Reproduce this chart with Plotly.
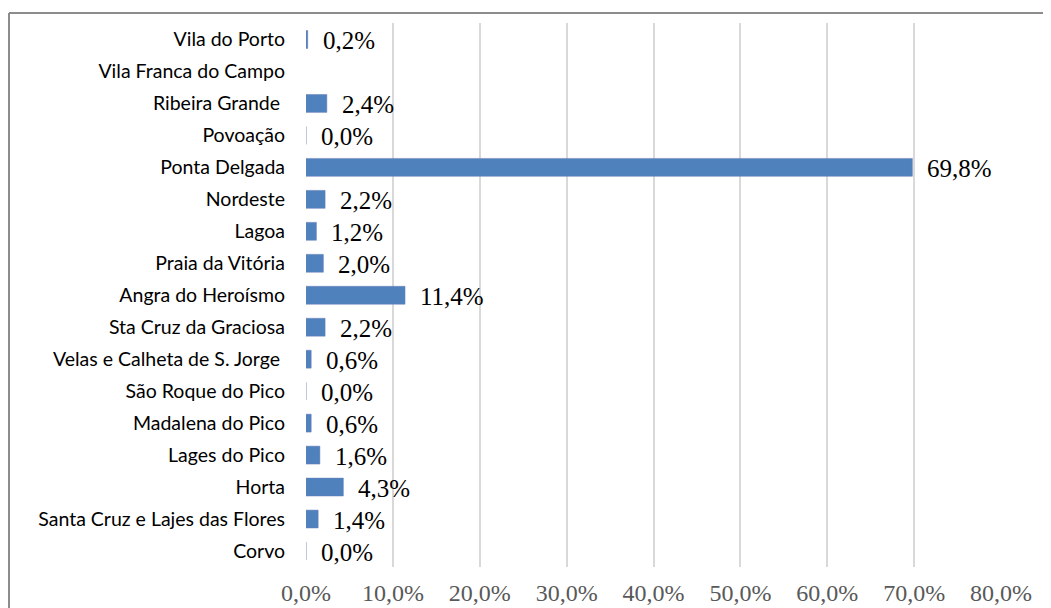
import plotly.graph_objects as go

categories = [
    "Vila do Porto", "Vila Franca do Campo", "Ribeira Grande ", "Povoação",
    "Ponta Delgada", "Nordeste", "Lagoa", "Praia da Vitória",
    "Angra do Heroísmo", "Sta Cruz da Graciosa", "Velas e Calheta de S. Jorge ",
    "São Roque do Pico", "Madalena do Pico", "Lages do Pico", "Horta",
    "Santa Cruz e Lajes das Flores", "Corvo",
]
values = [0.2, None, 2.4, 0.0, 69.8, 2.2, 1.2, 2.0, 11.4, 2.2, 0.6, 0.0, 0.6, 1.6, 4.3, 1.4, 0.0]
tick_vals = [0, 10, 20, 30, 40, 50, 60, 70, 80]

def fmt(v):
    return f"{v:.1f}".replace(".", ",") + "%"

# page body has an 8px margin; compensate
W, H = 1043, 600
ml, mr, mt, mb = 298, 50, 15, 41

fig = go.Figure()
fig.add_trace(go.Bar(
    y=categories, x=values, orientation="h",
    marker=dict(color="#4F81BD", line=dict(color="#6B7FB8", width=0.5)),
    hoverinfo="x+y",
))

for c, v in zip(categories, values):
    if v is None:
        continue
    fig.add_annotation(x=v, y=c, text=fmt(v), showarrow=False,
                       xanchor="left", xshift=13, yshift=-1,
                       font=dict(family="Liberation Serif", size=25, color="#000000"))

pw = W - ml - mr
ph = H - mt - mb
bx = (1 - ml) / pw
by = 1 + (mt - 5) / ph
fig.add_shape(type="line", xref="paper", yref="paper",
              x0=bx, x1=bx, y0=by, y1=-1,
              line=dict(color="#8C8C8C", width=2))
fig.add_shape(type="line", xref="paper", yref="paper",
              x0=bx, x1=2, y0=by, y1=by,
              line=dict(color="#8C8C8C", width=2))

fig.update_layout(
    width=W, height=H,
    margin=dict(l=ml, r=mr, t=mt, b=mb, autoexpand=False),
    plot_bgcolor="white", paper_bgcolor="white",
    showlegend=False, bargap=0.44,
    xaxis=dict(range=[0, 80], tickvals=tick_vals,
               ticktext=[fmt(t) for t in tick_vals],
               showgrid=True, gridcolor="#D9D9D9", gridwidth=1.5,
               zeroline=False, showline=False, automargin=False,
               tickfont=dict(family="Liberation Serif", size=24, color="#595959"),
               ticklabelstandoff=9),
    yaxis=dict(autorange="reversed", showgrid=False, zeroline=False,
               showline=False, ticks="", automargin=False,
               tickfont=dict(family="Lato", size=19.5, color="#000000"),
               ticklabelstandoff=20),
)

fig.write_html("out.html")
